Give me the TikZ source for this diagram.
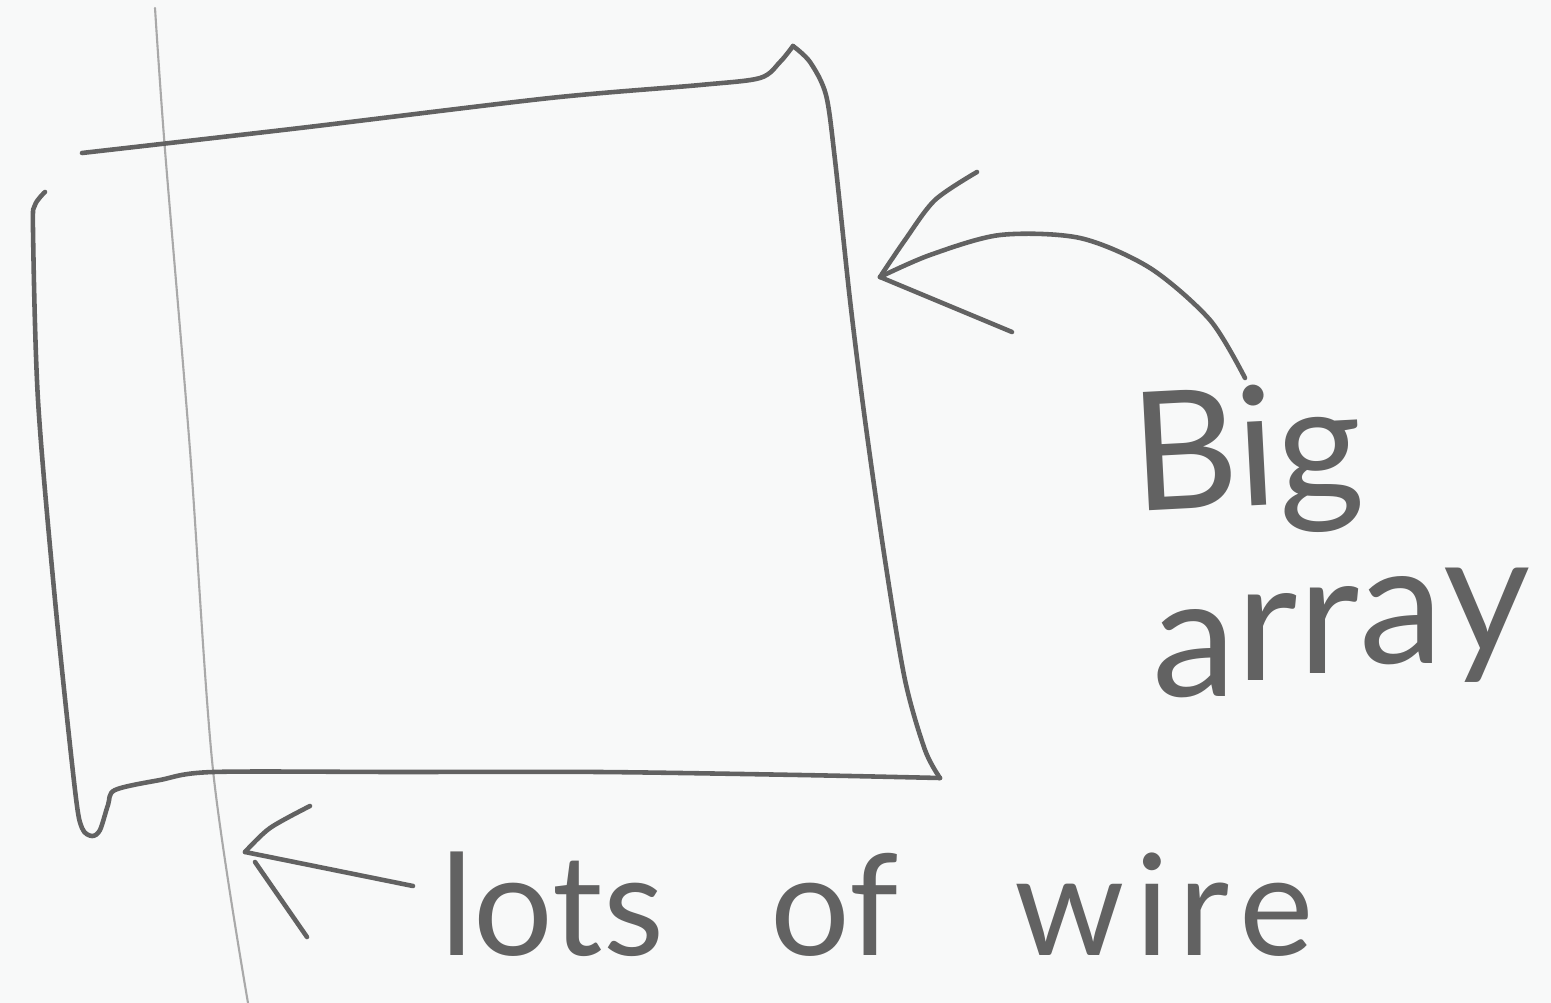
\documentclass[tikz,border=0pt]{standalone}
\usepackage{fontspec}
\setmainfont{Lato}
\definecolor{pencil}{HTML}{626262}
\definecolor{paper}{HTML}{F8F9F9}
\begin{document}
\begin{tikzpicture}[x=0.01cm,y=-0.01cm,
  pen/.style={draw=pencil,line width=1.3pt,line cap=round,line join=round},
  faint/.style={draw=pencil!55,line width=0.6pt,line cap=round},
  hand/.style={text=pencil,inner sep=0pt}]
\fill[paper] (0,0) rectangle (1551,1003);
\useasboundingbox (0,0) rectangle (1551,1003);
% thin vertical guide line
\draw[faint] plot[smooth] coordinates {(155,8) (165,150) (190,450) (213,770) (248,1003)};
% box outline
\draw[pen] plot[smooth,tension=0.5] coordinates {(82,153) (300,128) (550,98) (700,85) (760,78) (780,62) (793,46)};
\draw[pen] plot[smooth,tension=0.5] coordinates {(793,46) (810,62) (826,95) (835,160) (850,300) (865,420) (885,560) (905,680) (925,750) (940,778)};
\draw[pen] plot[smooth,tension=0.5] coordinates {(940,778) (800,775) (600,772) (400,772) (213,772) (160,780) (115,790) (108,805) (100,830) (92,836) (82,828) (75,790) (55,600) (38,400) (33,230) (35,205) (45,192)};
% labels
\node[hand,font=\fontsize{47}{47}\selectfont,anchor=base west,rotate=3] (big) at (1134,512) {Big};
\node[hand,font=\fontsize{48}{48}\selectfont,anchor=base west] (arr) at (1152,696) {a\raisebox{0.15cm}{r}\raisebox{0.22cm}{r}\raisebox{0.32cm}{a}\raisebox{0.42cm}{y}};
\node[hand,font=\fontsize{40}{40}\selectfont,anchor=base west] (wire) at (440,955) {lots\hspace{1.07cm}of\hspace{1.16cm}w\hspace{0.1cm}i\hspace{0.1cm}r\hspace{0.1cm}e};
% arrow to the box
\coordinate (bigtail) at (1245,378);
\coordinate (boxright) at (880,277);
\draw[pen] plot[smooth] coordinates {(1245,378) (1210,320) (1150,268) (1080,238) (1000,235) (930,255) (880,277)};
\draw[pen] plot[smooth] coordinates {(977,172) (935,200) (905,240) (880,277)};
\draw[pen] (boxright) -- (1012,332);
% arrow to the wire
\coordinate (wiretail) at (413,886);
\coordinate (wiretip) at (245,852);
\draw[pen] (wiretail) -- (wiretip);
\draw[pen] plot[smooth] coordinates {(310,806) (270,828) (245,852)};
\draw[pen] (255,862) -- (307,937);
\end{tikzpicture}
\end{document}
